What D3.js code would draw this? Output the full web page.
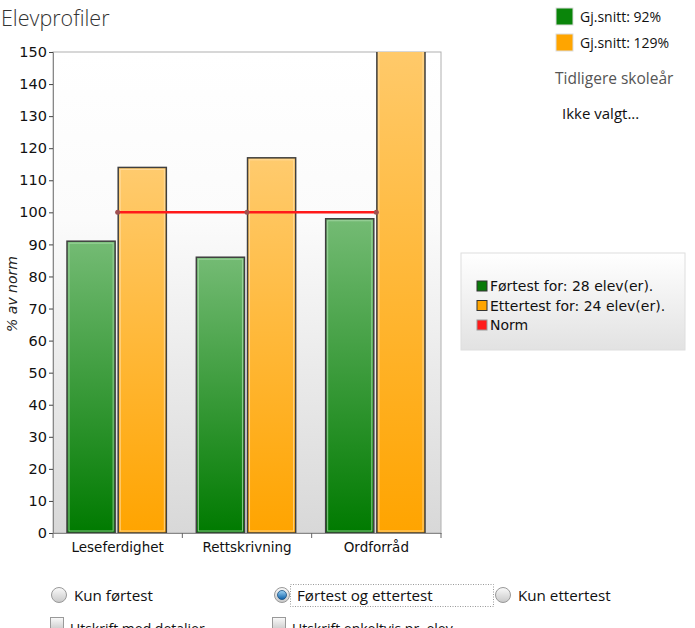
<!DOCTYPE html>
<html><head><meta charset="utf-8">
<script src="https://cdn.jsdelivr.net/npm/d3@7"></script>
<style>body{margin:0;background:#fff;overflow:hidden}svg{display:block}</style>
</head><body>
<script>
const categories = ["Leseferdighet","Rettskrivning","Ordforråd"];
const fortest = [91, 86, 98];
const ettertest = [114, 117, 156];
const norm = [100, 100, 100];
const yTicks = [0,10,20,30,40,50,60,70,80,90,100,110,120,130,140,150];
const seriesNames = ["Førtest for: 28 elev(er).","Ettertest for: 24 elev(er).","Norm"];
const avgLabels = ["Gj.snitt: 92%","Gj.snitt: 129%"];

const W=695,H=628;
const svg=d3.select("body").append("svg").attr("width",W).attr("height",H);
const defs=svg.append("defs");
function lg(id,stops,vert=true){const g=defs.append("linearGradient").attr("id",id).attr("x1",0).attr("y1",0).attr("x2",vert?0:1).attr("y2",vert?1:0);stops.forEach(s=>g.append("stop").attr("offset",s[0]).attr("stop-color",s[1]));}
lg("bg",[[0,"#ffffff"],[0.35,"#fbfbfb"],[1,"#d8d8d8"]]);
lg("gGreen",[[0,"#74bb74"],[1,"#007a00"]]);
lg("gOrange",[[0,"#ffcb6e"],[1,"#ffa400"]]);
lg("gLeg",[[0,"#ffffff"],[1,"#e2e2e2"]]);
defs.append("clipPath").attr("id","clip").append("rect").attr("x",53).attr("y",52).attr("width",388).attr("height",481);

const m={l:53,t:52,r:441,b:533};
const x=d3.scaleBand().domain(categories).range([m.l,m.r]).paddingInner(0).paddingOuter(0);
const y=d3.scaleLinear().domain([0,150]).range([m.b,m.t]);
const inner=d3.scaleBand().domain([0,1]).range([14,x.bandwidth()-16]).paddingInner(0.06).paddingOuter(0);

svg.append("rect").attr("x",m.l).attr("y",m.t).attr("width",m.r-m.l).attr("height",m.b-m.t).attr("fill","url(#bg)").attr("stroke","#b0b0b0");

const plot=svg.append("g").attr("clip-path","url(#clip)");
const series=[{v:fortest,fill:"url(#gGreen)",hl:"#a8d8a8"},{v:ettertest,fill:"url(#gOrange)",hl:"#ffe0a8"}];
series.forEach((s,i)=>{
  categories.forEach((c,j)=>{
    const x0=x(c)+inner(i), w=inner.bandwidth(), yt=y(s.v[j]);
    plot.append("rect").attr("x",x0).attr("y",yt).attr("width",w).attr("height",m.b-yt).attr("fill",s.fill).attr("stroke","#3f3f3f").attr("stroke-width",1.5);
    plot.append("rect").attr("x",x0+2).attr("y",yt+2).attr("width",w-4).attr("height",Math.max(0,m.b-yt-4)).attr("fill","none").attr("stroke",s.hl).attr("stroke-width",1).attr("opacity",0.8);
  });
});
const line=d3.line().x((d,j)=>x(categories[j])+x.bandwidth()/2).y(d=>y(d));
plot.append("path").datum(norm).attr("d",line).attr("fill","none").attr("stroke","#ff1a1a").attr("stroke-width",2.5);
norm.forEach((d,j)=>plot.append("circle").attr("cx",x(categories[j])+x.bandwidth()/2).attr("cy",y(d)).attr("r",2.5).attr("fill","#a05050"));

// axes
const ya=svg.append("g").attr("transform",`translate(${m.l},0)`).call(d3.axisLeft(y).tickValues(yTicks).tickSize(4).tickPadding(2));
ya.select(".domain").attr("stroke","#888");
ya.selectAll(".tick line").attr("stroke","#444");
ya.selectAll("text").attr("font-family","DejaVu Sans").attr("font-size",14.5).attr("fill","#111");
const xa=svg.append("g").attr("transform",`translate(0,${m.b})`).call(d3.axisBottom(x).tickSize(0).tickPadding(9));
xa.select(".domain").attr("stroke","#888");
xa.selectAll("text").attr("font-family","DejaVu Sans").attr("font-size",13.5).attr("fill","#111");
[...categories.map(c=>x(c)),m.r].forEach(v=>svg.append("line").attr("x1",v).attr("x2",v).attr("y1",m.b).attr("y2",m.b+5).attr("stroke","#666"));

svg.append("text").attr("transform",`translate(17,294) rotate(-90)`).attr("text-anchor","middle").attr("font-family","DejaVu Sans").attr("font-style","italic").attr("font-size",14).attr("fill","#222").text("% av norm");
svg.append("text").attr("x",1).attr("y",26).attr("font-family","Open Sans").attr("font-weight",300).attr("font-size",21.5).attr("fill","#333").text("Elevprofiler");

// top-right legend
const avgCols=["#0a850a","#ffa500"];
avgLabels.forEach((t,i)=>{
  svg.append("rect").attr("x",556).attr("y",8+i*26).attr("width",17).attr("height",17).attr("fill",avgCols[i]).attr("stroke","#ddd");
  svg.append("text").attr("x",580).attr("y",22+i*26).attr("font-family","Open Sans").attr("font-size",14).attr("fill","#111").text(t);
});
svg.append("text").attr("x",555).attr("y",84).attr("font-family","Open Sans").attr("font-size",15.5).attr("fill","#555").text("Tidligere skoleår");
svg.append("text").attr("x",562).attr("y",119).attr("font-family","Open Sans").attr("font-size",15).attr("fill","#111").text("Ikke valgt...");

// mid legend
svg.append("rect").attr("x",461).attr("y",253).attr("width",224).attr("height",97).attr("fill","url(#gLeg)").attr("stroke","#dedede");
const legCols=["#0a7a0a","#ffa500","#ff1a1a"];
seriesNames.forEach((t,i)=>{
  const yy=286+i*19.5;
  svg.append("rect").attr("x",477).attr("y",yy-5).attr("width",10).attr("height",10).attr("fill",legCols[i]).attr("stroke",i==2?"#999":"#333");
  svg.append("text").attr("x",490).attr("y",yy+5).attr("font-family","DejaVu Sans").attr("font-size",14).attr("fill","#111").text(t);
});

// radios
lg("radio",[[0,"#fafafa"],[1,"#c8c8c8"]]);
lg("radioSel",[[0,"#9fd4f5"],[1,"#0a5ea8"]]);
const radios=[{x:59,t:"Kun førtest",sel:false},{x:282,t:"Førtest og ettertest",sel:true},{x:503,t:"Kun ettertest",sel:false}];
radios.forEach(r=>{
  svg.append("circle").attr("cx",r.x).attr("cy",595).attr("r",7.5).attr("fill","url(#radio)").attr("stroke","#999");
  if(r.sel) svg.append("circle").attr("cx",r.x).attr("cy",595).attr("r",4.5).attr("fill","url(#radioSel)").attr("stroke","#1b4f80").attr("stroke-width",0.8);
  svg.append("text").attr("x",r.x+15).attr("y",601).attr("font-family","Open Sans").attr("font-size",15.2).attr("fill","#111").text(r.t);
});
svg.append("rect").attr("x",290.5).attr("y",584.5).attr("width",203).attr("height",22).attr("fill","none").attr("stroke","#999").attr("stroke-dasharray","1,1.5");
[{x:50,t:"Utskrift med detaljer"},{x:272,t:"Utskrift enkeltvis pr. elev"}].forEach(c=>{
  svg.append("rect").attr("x",c.x+0.5).attr("y",617.5).attr("width",13).attr("height",13).attr("fill","url(#radio)").attr("stroke","#999");
  svg.append("text").attr("x",c.x+20).attr("y",634).attr("font-family","Open Sans").attr("font-size",14).attr("fill","#111").text(c.t);
});
</script>
</body></html>
